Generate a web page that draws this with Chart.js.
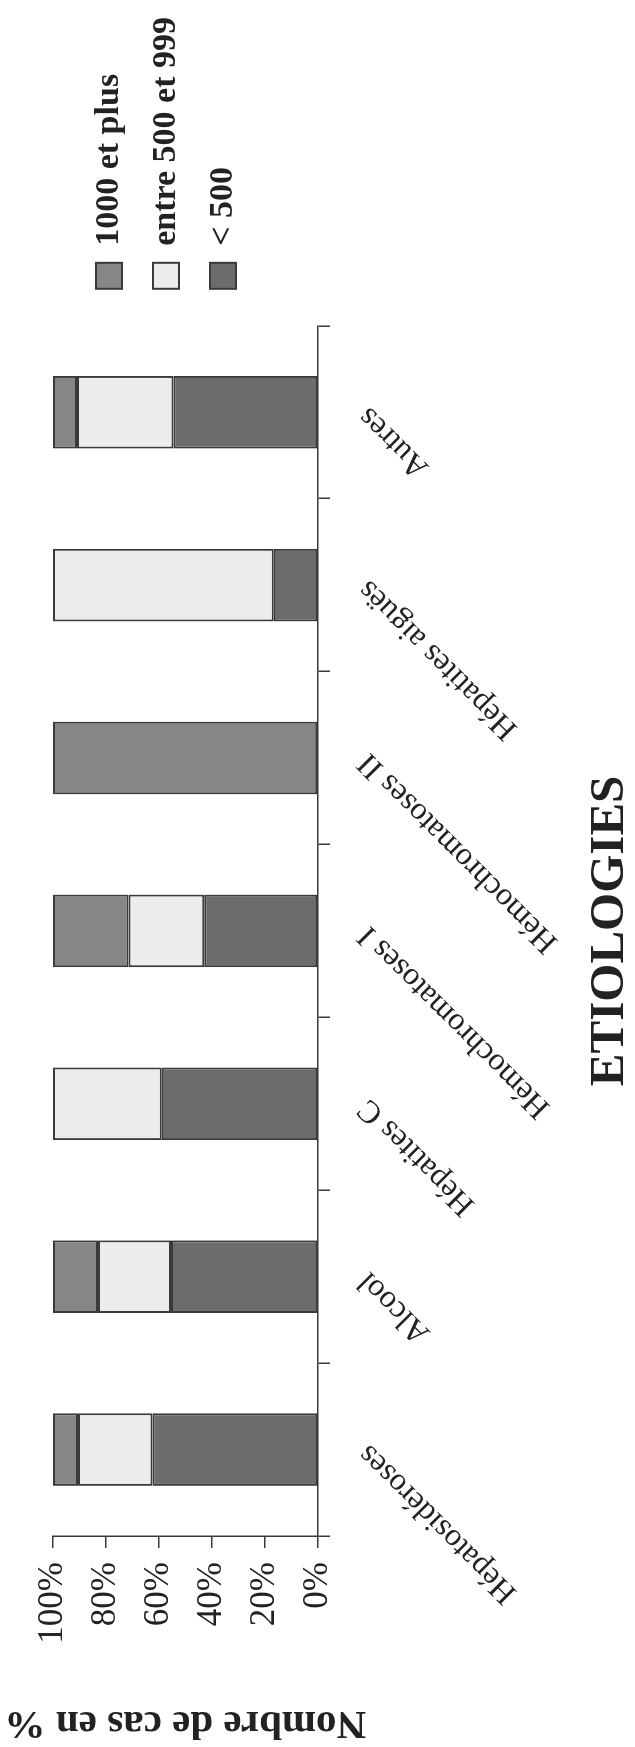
<!DOCTYPE html>
<html>
<head>
<meta charset="utf-8">
<title>Etiologies - ferritine</title>
<script src="https://cdn.jsdelivr.net/npm/chart.js@4.4.1/dist/chart.umd.min.js"></script>
<style>
  html, body { margin: 0; padding: 0; background: #fff; }
  #page { position: relative; width: 635px; height: 1747px; overflow: hidden; background: #fff; }
  /* the chart is drawn landscape, then turned a quarter left like the scanned page */
  #turn {
    position: absolute; left: 0; top: 0;
    width: 1747px; height: 635px;
    transform-origin: 0 0;
    transform: translate(0, 1747px) rotate(-90deg);
  }
  #chart { display: block; width: 1747px; height: 635px; }
</style>
</head>
<body>
<div id="page">
  <div id="turn">
    <canvas id="chart" width="1747" height="635"></canvas>
  </div>
</div>
<script>
// Ferritin level per etiology, in % of cases
const categories = ['Hépatosidéroses', 'Alcool', 'Hépatites C', 'Hémochromatoses I',
  'Hémochromatoses II', 'Hépatites aiguës', 'Autres'];
const under500 = [62.5, 55.5, 59, 42.9, 0, 16.7, 54.5];
const from500to999 = [28.1, 27.5, 41, 28.6, 0, 83.3, 36.4];
const over1000 = [9.4, 17, 0, 28.5, 100, 0, 9.1];
const yTicks = [0, 20, 40, 60, 80, 100];

const serif = '"Liberation Serif", "Times New Roman", Times, serif';
const ink = '#222';
const edge = '#3a3a3a';

Chart.defaults.font.family = serif;
Chart.defaults.color = ink;

function bars(label, data, fill) {
  return {
    label,
    data,
    backgroundColor: fill,
    borderColor: edge,
    borderWidth: 2,
    borderSkipped: false,
    categoryPercentage: 1,
    barPercentage: 0.42,
  };
}

// legend sits a little further from the plot than its item padding allows
const nudgeLegend = {
  id: 'nudgeLegend',
  afterLayout(chart) {
    const lg = chart.legend;
    if (!lg) return;
    lg.left += 14;
    lg.right += 14;
  },
};

new Chart(document.getElementById('chart'), {
  type: 'bar',
  data: {
    labels: categories,
    datasets: [
      bars('< 500', under500, '#6c6c6c'),
      bars('entre 500 et 999', from500to999, '#ececec'),
      bars('1000 et plus', over1000, '#868686'),
    ],
  },
  plugins: [nudgeLegend],
  options: {
    responsive: false,
    devicePixelRatio: 1,
    animation: false,
    layout: { padding: { top: 53, left: 0, right: 21, bottom: 0 } },
    scales: {
      x: {
        stacked: true,
        afterFit: s => { s.height = 317; },
        grid: { offset: true, drawOnChartArea: false, tickLength: 12, color: edge, lineWidth: 1.5 },
        border: { color: edge, width: 1.5 },
        ticks: {
          autoSkip: false,
          minRotation: 45,
          maxRotation: 45,
          padding: 20,
          color: ink,
          font: { family: serif, size: 32 },
        },
        title: {
          display: true,
          text: 'ETIOLOGIES',
          color: ink,
          font: { family: serif, size: 49, weight: 'bold', lineHeight: 1 },
          padding: { top: 10, bottom: 0 },
        },
      },
      y: {
        stacked: true,
        min: 0,
        max: 100,
        afterFit: s => { s.width = 211; },
        afterBuildTicks: axis => { axis.ticks = yTicks.map(v => ({ value: v })); },
        grid: { drawOnChartArea: false, tickLength: 12, color: edge, lineWidth: 1.5 },
        border: { color: edge, width: 1.5 },
        ticks: {
          padding: 14,
          color: ink,
          font: { family: serif, size: 35 },
          callback: v => v + '%',
        },
        title: {
          display: true,
          text: 'Nombre de cas en %',
          color: ink,
          font: { family: serif, size: 41, weight: 'bold' },
          padding: { top: 0, bottom: 20 },
        },
      },
    },
    plugins: {
      tooltip: { enabled: false },
      legend: {
        position: 'right',
        align: 'start',
        fullSize: false,
        reverse: true,
        title: { display: true, text: ' ', padding: 0, font: { size: 10, lineHeight: 1.6 } },
        labels: {
          boxWidth: 26,
          boxHeight: 26,
          padding: 23,
          color: ink,
          font: { family: serif, size: 34, weight: 'bold' },
        },
      },
    },
  },
});
</script>
</body>
</html>
